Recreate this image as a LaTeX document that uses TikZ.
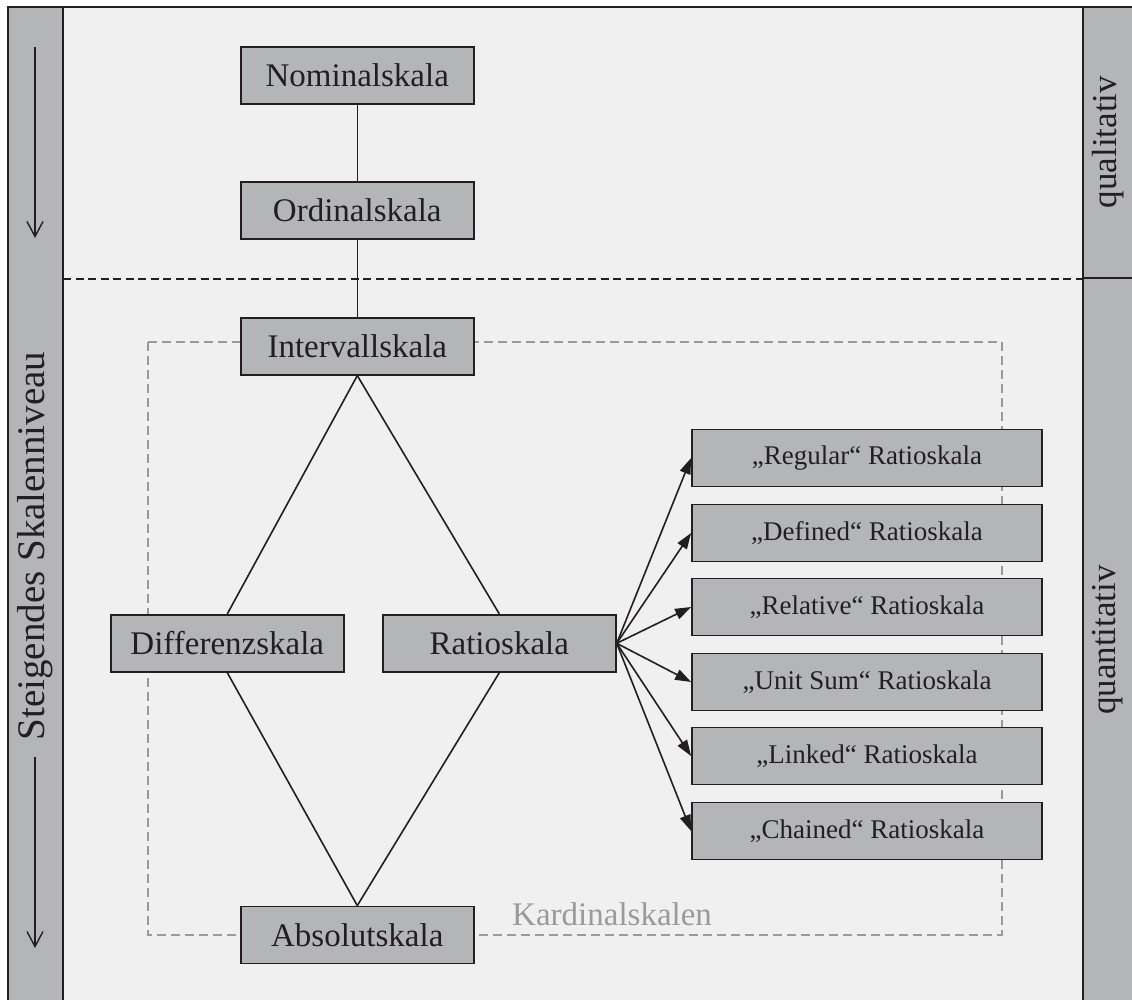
\documentclass[tikz,border=0pt]{standalone}
\usepackage{fontspec}
\setmainfont{Liberation Serif}
\usetikzlibrary{arrows.meta}
\definecolor{bg}{HTML}{F0F0F0}
\definecolor{boxfill}{HTML}{B4B5B7}
\definecolor{ink}{HTML}{231F20}
\definecolor{dashgray}{HTML}{9A9A9A}
\begin{document}
\begin{tikzpicture}[x=1pt,y=-1pt,
  mainbox/.style={draw=ink, fill=boxfill, line width=1.8pt, minimum width=233pt, minimum height=57pt, inner sep=0pt, font=\fontsize{33}{36}\selectfont, text=ink},
  ratiobox/.style={mainbox, minimum width=350pt, font=\fontsize{27}{30}\selectfont},
  conn/.style={draw=ink, line width=1.6pt},
  arr/.style={conn, -{Triangle[length=16pt,width=11pt]}},
  levelarrow/.style={draw=ink, line width=1.4pt, -{Straight Barb[length=15pt,width=16pt]}},
  frameline/.style={draw=ink, line width=1.8pt},
  sidelabel/.style={rotate=90, text=ink, inner sep=0pt}
]
\useasboundingbox (0,0) rectangle (1132,1000);
\fill[white] (0,0) rectangle (1132,1000);
\fill[bg] (8,7) rectangle (1132,1000);
\fill[boxfill] (8,7) rectangle (63,1000);
\fill[boxfill] (1083,7) rectangle (1132,1000);
\draw[frameline] (8,1000) -- (8,7) -- (1132,7);
\draw[frameline] (63,7) -- (63,1000);
\draw[frameline] (1083,7) -- (1083,1000);
\draw[frameline] (1083,278) -- (1132,278);
\draw[draw=ink, line width=1.6pt, dash pattern=on 8pt off 4.5pt] (63,279) -- (1083,279);

% Kardinalskalen frame
\draw[dashgray, line width=1.6pt, dash pattern=on 9pt off 5pt] (148,342) rectangle (1002,934.7);
\node[anchor=base west, text=dashgray, inner sep=0pt, font=\fontsize{33}{36}\selectfont] (kard) at (512,925) {Kardinalskalen};

% side labels
\node[sidelabel, font=\fontsize{39}{42}\selectfont] (lvl) at (35,546) {Steigendes Skalenniveau};
\node[sidelabel, font=\fontsize{35}{38}\selectfont] (qual) at (1108,142) {qualitativ};
\node[sidelabel, font=\fontsize{35}{38}\selectfont] (quant) at (1108,640) {quantitativ};
\coordinate (a1s) at (35,47);
\coordinate (a1e) at (35,238);
\coordinate (a2s) at (35,757);
\coordinate (a2e) at (35,948);
\draw[levelarrow] (a1s) -- (a1e);
\draw[levelarrow] (a2s) -- (a2e);

% main nodes
\node[mainbox] (nom) at (357.3,75.2) {Nominalskala};
\node[mainbox] (ord) at (357.3,210.5) {Ordinalskala};
\node[mainbox] (int) at (357.3,346.2) {Intervallskala};
\node[mainbox] (dif) at (227.3,643.3) {Differenzskala};
\node[mainbox] (rat) at (499.3,643.3) {Ratioskala};
\node[mainbox] (abs) at (357.3,935) {Absolutskala};

% ratio subtypes
\node[ratiobox] (reg) at (867,458) {„Regular“ Ratioskala};
\node[ratiobox] (def) at (867,533) {„Defined“ Ratioskala};
\node[ratiobox] (rel) at (867,607) {„Relative“ Ratioskala};
\node[ratiobox] (uni) at (867,682) {„Unit Sum“ Ratioskala};
\node[ratiobox] (lin) at (867,756) {„Linked“ Ratioskala};
\node[ratiobox] (cha) at (867,831) {„Chained“ Ratioskala};

% connectors
\draw[conn] (nom) -- (ord);
\draw[conn] (ord) -- (int);
\draw[conn] (int.south) -- (dif.north);
\draw[conn] (int.south) -- (rat.north);
\draw[conn] (dif.south) -- (abs.north);
\draw[conn] (rat.south) -- (abs.north);
\foreach \t in {reg,def,rel,uni,lin,cha} {
  \draw[arr] (rat.east) -- (\t.west);
}
\end{tikzpicture}
\end{document}
